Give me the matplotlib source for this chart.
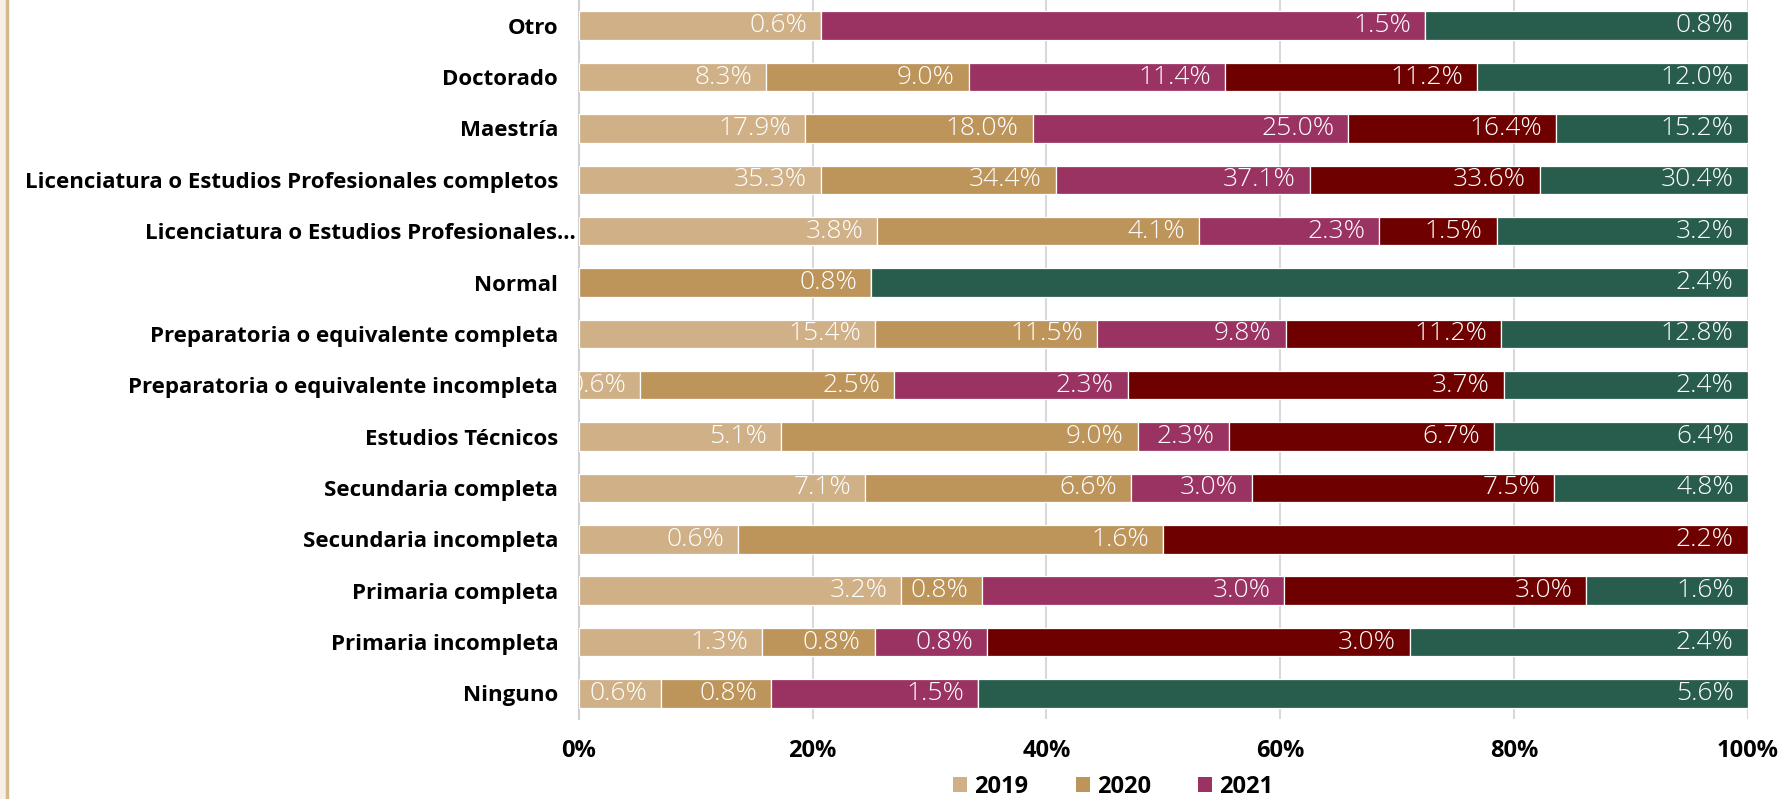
import matplotlib
matplotlib.use('Agg')
import matplotlib.pyplot as plt
from matplotlib.lines import Line2D
from matplotlib.patches import Rectangle, Patch
from matplotlib.transforms import offset_copy
import numpy as np

# ---------------- data (top row first) ----------------
categories = [
    "Otro",
    "Doctorado",
    "Maestría",
    "Licenciatura o Estudios Profesionales completos",
    "Licenciatura o Estudios Profesionales...",
    "Normal",
    "Preparatoria o equivalente completa",
    "Preparatoria o equivalente incompleta",
    "Estudios Técnicos",
    "Secundaria completa",
    "Secundaria incompleta",
    "Primaria completa",
    "Primaria incompleta",
    "Ninguno",
]
years = ["2019", "2020", "2021", "2022", "2023"]
v2019 = [0.6, 8.3, 17.9, 35.3, 3.8, 0.0, 15.4, 0.6, 5.1, 7.1, 0.6, 3.2, 1.3, 0.6]
v2020 = [0.0, 9.0, 18.0, 34.4, 4.1, 0.8, 11.5, 2.5, 9.0, 6.6, 1.6, 0.8, 0.8, 0.8]
v2021 = [1.5, 11.4, 25.0, 37.1, 2.3, 0.0, 9.8, 2.3, 2.3, 3.0, 0.0, 3.0, 0.8, 1.5]
v2022 = [0.0, 11.2, 16.4, 33.6, 1.5, 0.0, 11.2, 3.7, 6.7, 7.5, 2.2, 3.0, 3.0, 0.0]
v2023 = [0.8, 12.0, 15.2, 30.4, 3.2, 2.4, 12.8, 2.4, 6.4, 4.8, 0.0, 1.6, 2.4, 5.6]
xticks = [0, 20, 40, 60, 80, 100]
xtick_labels = ["0%", "20%", "40%", "60%", "80%", "100%"]
legend_years = ["2019", "2020", "2021"]   # the part of the legend visible in the crop

colors = ["#CFB087", "#BD955B", "#9A3262", "#6E0000", "#285C4D"]

FONT = "Open Sans"

fig = plt.figure(figsize=(17.87, 7.99), dpi=100)
fig.patch.set_facecolor("white")

# left decorative border
fig.add_artist(Rectangle((0, 0), 0.0035, 1, transform=fig.transFigure,
                         facecolor="#F6F0E8", edgecolor="none", zorder=0))
fig.add_artist(Line2D([0.0037, 0.0037], [0, 1], transform=fig.transFigure,
                      color="#D4B98C", lw=2.5, zorder=1))

ax = fig.add_axes([0.324, 0.1, 0.654, 0.9])

data = np.array([v2019, v2020, v2021, v2022, v2023])
totals = data.sum(axis=0)
n = len(categories)
ypos = np.arange(n)[::-1]

left = np.zeros(n)
handles = {}
for i, yr in enumerate(years):
    frac = data[i] / totals * 100
    ax.barh(ypos, frac, left=left, height=0.555, color=colors[i],
            edgecolor="white", linewidth=0.9, zorder=3)
    handles[yr] = Patch(facecolor=colors[i], edgecolor="none", label=yr)
    trans = offset_copy(ax.transData, fig=fig, x=-10, y=0, units="points")
    for j in range(n):
        if data[i][j] > 0:
            t = ax.text(left[j] + frac[j], ypos[j], f"{data[i][j]:.1f}%",
                        transform=trans, ha="right", va="center",
                        color="white", fontsize=19, family=FONT,
                        fontweight="light", zorder=4)
            t.set_clip_on(True)
            t.set_clip_path(ax.patch)
    left += frac

ax.set_xlim(0, 100)
ax.set_ylim(-0.5, n - 0.5)
ax.set_xticks(xticks)
ax.set_xticklabels(xtick_labels)
ax.set_yticks(ypos)
ax.set_yticklabels(categories)

for lab in ax.get_xticklabels():
    lab.set_fontfamily(FONT)
    lab.set_fontweight("bold")
    lab.set_fontsize(17)
for lab in ax.get_yticklabels():
    lab.set_fontfamily(FONT)
    lab.set_fontweight("bold")
    lab.set_fontsize(16)

ax.tick_params(axis="x", length=0, pad=14)
ax.tick_params(axis="y", length=0, pad=15)
# truncated label sits closer to the axis
ax.yaxis.get_major_ticks()[categories.index("Licenciatura o Estudios Profesionales...")].set_pad(2)

ax.grid(axis="x", color="#D9D9D9", lw=1.5, zorder=0)
ax.set_axisbelow(True)
for s in ["top", "right", "bottom"]:
    ax.spines[s].set_visible(False)
ax.spines["left"].set_color("#D0D0D0")
ax.spines["left"].set_linewidth(1.5)

fig.legend([handles[y] for y in legend_years], legend_years,
           ncol=3, loc="lower left", bbox_to_anchor=(0.5333, 0.0),
           frameon=False, borderpad=0, borderaxespad=0,
           handlelength=0.6, handleheight=0.6,
           handletextpad=0.3, columnspacing=2.0,
           prop={"family": FONT, "weight": "bold", "size": 17})

fig.savefig("out.png", dpi=100)
